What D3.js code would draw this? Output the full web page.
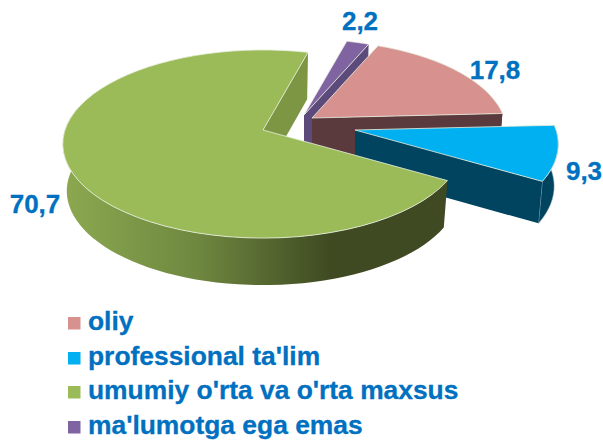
<!DOCTYPE html>
<html>
<head>
<meta charset="utf-8">
<script src="https://cdn.jsdelivr.net/npm/d3@7"></script>
<style>
  html, body { margin: 0; padding: 0; background: #fff; }
  svg { display: block; }
  text { font-family: "Liberation Sans", Arial, sans-serif; font-weight: 700; fill: #0070c0; stroke: #0070c0; stroke-width: 0.3; }
</style>
</head>
<body>
<svg id="chart" width="603" height="441"></svg>
<script>
// data
const categories = ["oliy", "professional ta'lim", "umumiy o'rta va o'rta maxsus", "ma'lumotga ega emas"];
const values = [17.8, 9.3, 70.7, 2.2];
const valueLabels = ["17,8", "9,3", "70,7", "2,2"];

// colours per slice
const topColors = ["#d79290", "#00b0f0", "#9bbb59", "#8064a2"];
const wallColors = ["#5a3a3c", "#00445f", "#7c9644", "#5c4a7a"];
const rimColors = ["#5a3a3c", "#00445f", "url(#greenRim)", "#5c4a7a"];

// layout: where each exploded slice has its tip, its size and thickness, and where the labels go
const tips = [[312, 118], [355, 130], [263, 130], [304, 115]];
const sliceScale = [0.97, 1.015, 1, 0.95];
const sliceDepth = [45, 42, 47, 45];
const labelAt = [[495, 79], [584, 180], [35, 213], [360, 30]];
const legendY = [330, 365, 399, 434];
const drawOrder = [3, 0, 1, 2];

// projection of the tilted disc
const RX = 198, RY = 92, PERSP = 0.149, BOTTOM_SHRINK = 0.98;
const rad = Math.PI / 180;

function project(i, angle, r, bottom) {
    const tip = tips[i], s = sliceScale[i];
    const X = Math.sin(angle) * r, Y = Math.cos(angle) * r;
    const w = 1 + PERSP * Y;
    const dx = s * RX * X / w, dy = -s * RY * Y / w;
    return bottom
        ? [tip[0] + dx * BOTTOM_SHRINK, tip[1] + dy + sliceDepth[i]]
        : [tip[0] + dx, tip[1] + dy];
}

const svg = d3.select("#chart");

const defs = svg.append("defs");
const grad = defs.append("linearGradient")
    .attr("id", "greenRim")
    .attr("gradientUnits", "userSpaceOnUse")
    .attr("x1", 62).attr("x2", 445).attr("y1", 0).attr("y2", 0);
grad.selectAll("stop")
    .data([[0, "#8ca950"], [0.35, "#6f8840"], [0.7, "#3f4a22"], [1, "#3f4a22"]])
    .enter().append("stop")
    .attr("offset", d => d[0])
    .attr("stop-color", d => d[1]);

const pie = d3.pie().sort(null)
    .startAngle(23 * rad)
    .endAngle(383 * rad);
const arcs = pie(values);

const line = d3.line();
const angleSteps = (a, b) => d3.range(0, 61).map(i => a + (b - a) * i / 60);

const slices = svg.selectAll("g.slice")
    .data(drawOrder)
    .enter().append("g")
    .attr("class", "slice");

slices.each(function(i) {
    const g = d3.select(this);
    const start = arcs[i].startAngle, end = arcs[i].endAngle;

    // outer rim, only the part that faces the viewer
    const from = Math.max(start, 80 * rad), to = Math.min(end, 285 * rad);
    if (to > from) {
        const steps = angleSteps(from, to);
        const pts = steps.map(a => project(i, a, 1, false))
            .concat(steps.slice().reverse().map(a => project(i, a, 1, true)));
        g.append("path")
            .attr("d", line(pts) + "Z")
            .attr("fill", rimColors[i])
            .attr("stroke", i === 1 ? "#b9c9d2" : "none")
            .attr("stroke-width", 0.6);
    }

    // cut wall on the clockwise end of the slice
    const wall = [
        project(i, end, 0, false),
        project(i, end, 1, false),
        project(i, end, 1, true),
        project(i, end, 0, true)
    ];
    g.append("path")
        .attr("d", line(wall) + "Z")
        .attr("fill", wallColors[i]);

    // top face
    const topPts = [project(i, start, 0, false)]
        .concat(angleSteps(start, end).map(a => project(i, a, 1, false)));
    g.append("path")
        .attr("d", line(topPts) + "Z")
        .attr("fill", topColors[i])
        .attr("stroke", "#e8efe0")
        .attr("stroke-width", 0.8)
        .attr("stroke-linejoin", "round");
});

// value labels
svg.selectAll("text.value")
    .data(valueLabels)
    .enter().append("text")
    .attr("class", "value")
    .attr("x", (d, i) => labelAt[i][0])
    .attr("y", (d, i) => labelAt[i][1])
    .attr("text-anchor", "middle")
    .attr("font-size", 26)
    .text(d => d);

// legend
const legend = svg.selectAll("g.legend")
    .data(categories)
    .enter().append("g")
    .attr("class", "legend")
    .attr("transform", (d, i) => `translate(0,${legendY[i]})`);

legend.append("rect")
    .attr("x", 68).attr("y", -13)
    .attr("width", 12.5).attr("height", 12.5)
    .attr("fill", (d, i) => topColors[i]);

legend.append("text")
    .attr("x", 88)
    .attr("font-size", 26.4)
    .text(d => d);
</script>
</body>
</html>
